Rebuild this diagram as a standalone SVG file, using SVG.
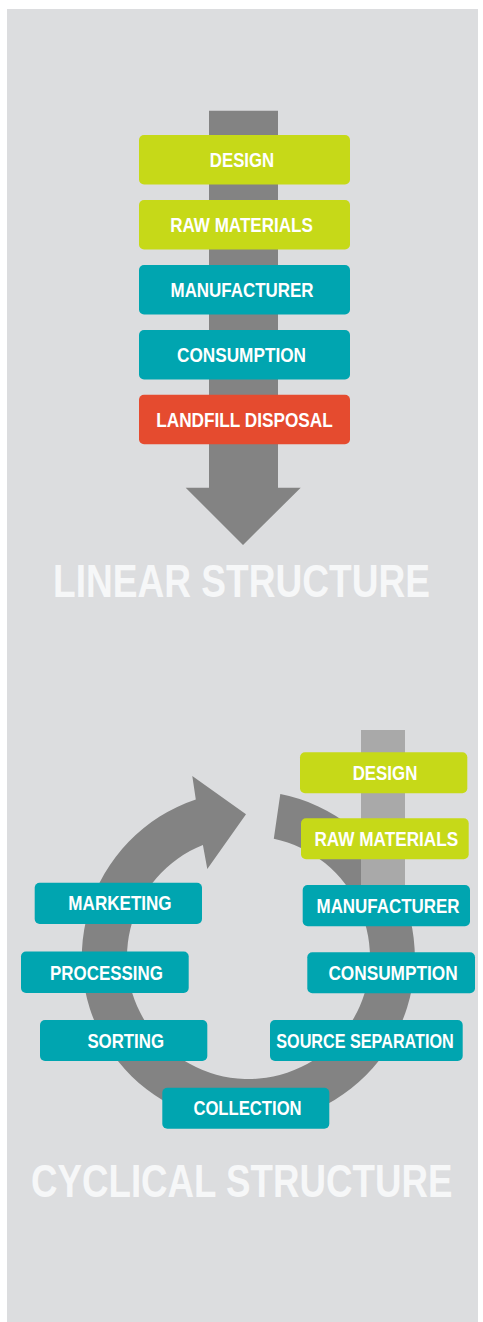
<svg xmlns="http://www.w3.org/2000/svg" width="483" height="1322" viewBox="0 0 483 1322">
  <style>
    .bg { fill: #dcdddf; }
    .arrow { fill: #838383; }
    .bar { fill: #a9a9a9; }
    .green { fill: #c6d918; }
    .teal { fill: #00a5b0; }
    .red { fill: #e54b2f; }
    .lbl { font-family: "Liberation Sans", Arial, sans-serif; font-weight: bold; font-size: 20px; fill: #ffffff; text-anchor: middle; }
    .title { font-family: "Liberation Sans", Arial, sans-serif; font-weight: bold; font-size: 46px; fill: #f6f7f8; text-anchor: middle; }
  </style>
  <rect class="bg" x="7" y="9" width="471" height="1313"/>

  <g id="connectors">
    <path id="linear-arrow" class="arrow" d="M209,110.7 H278 V487.7 H300.7 L243,545 L185.7,487.7 H209 Z"/>
    <path id="cycle-arrow" class="arrow" d="M280.3,794.1 A166.5,166.5 0 1 1 195.8,799.5 L192.3,776 L246,814.3 L207.3,869 L202.9,844.9 A121.5,121.5 0 1 0 273.8,838.7 Z"/>
    <rect id="cycle-feed" class="bar" x="361" y="730" width="44" height="156"/>
  </g>

  <g id="linear-design">
    <rect class="green" x="139" y="135" width="211" height="49.5" rx="5"/>
    <text class="lbl" transform="translate(242,167.3) scale(0.839,1)">DESIGN</text>
  </g>
  <g id="linear-raw-materials">
    <rect class="green" x="139" y="200" width="211" height="49.5" rx="5"/>
    <text class="lbl" transform="translate(241.5,232.3) scale(0.853,1)">RAW MATERIALS</text>
  </g>
  <g id="linear-manufacturer">
    <rect class="teal" x="139" y="265" width="211" height="49.5" rx="5"/>
    <text class="lbl" transform="translate(242,297.3) scale(0.847,1)">MANUFACTURER</text>
  </g>
  <g id="linear-consumption">
    <rect class="teal" x="139" y="330" width="211" height="49.5" rx="5"/>
    <text class="lbl" transform="translate(241.5,362.3) scale(0.86,1)">CONSUMPTION</text>
  </g>
  <g id="linear-landfill">
    <rect class="red" x="139" y="394.7" width="211" height="49.5" rx="5"/>
    <text class="lbl" transform="translate(244.5,427) scale(0.861,1)">LANDFILL DISPOSAL</text>
  </g>

  <text class="title" transform="translate(241.5,597.3) scale(0.806,1)">LINEAR STRUCTURE</text>

  <g id="cycle-design">
    <rect class="green" x="300" y="752.3" width="167.3" height="41" rx="5"/>
    <text class="lbl" transform="translate(385,780) scale(0.844,1)">DESIGN</text>
  </g>
  <g id="cycle-raw-materials">
    <rect class="green" x="301" y="818.3" width="167.7" height="41" rx="5"/>
    <text class="lbl" transform="translate(386.3,846) scale(0.859,1)">RAW MATERIALS</text>
  </g>
  <g id="cycle-manufacturer">
    <rect class="teal" x="302.7" y="885" width="167.3" height="41.3" rx="5"/>
    <text class="lbl" transform="translate(388,912.7) scale(0.847,1)">MANUFACTURER</text>
  </g>
  <g id="cycle-consumption">
    <rect class="teal" x="307.3" y="952.3" width="167.7" height="41" rx="5"/>
    <text class="lbl" transform="translate(393,980) scale(0.862,1)">CONSUMPTION</text>
  </g>
  <g id="cycle-source-separation">
    <rect class="teal" x="270" y="1020" width="192.7" height="41" rx="5"/>
    <text class="lbl" transform="translate(365,1047.7) scale(0.81,1)">SOURCE SEPARATION</text>
  </g>
  <g id="cycle-collection">
    <rect class="teal" x="162.3" y="1087.7" width="167" height="41" rx="5"/>
    <text class="lbl" transform="translate(247.5,1115.4) scale(0.833,1)">COLLECTION</text>
  </g>
  <g id="cycle-sorting">
    <rect class="teal" x="40" y="1020" width="167.3" height="41" rx="5"/>
    <text class="lbl" transform="translate(125.7,1047.7) scale(0.842,1)">SORTING</text>
  </g>
  <g id="cycle-processing">
    <rect class="teal" x="21" y="951.5" width="167.7" height="41.5" rx="5"/>
    <text class="lbl" transform="translate(106.5,979.5) scale(0.847,1)">PROCESSING</text>
  </g>
  <g id="cycle-marketing">
    <rect class="teal" x="34.7" y="882.7" width="167.3" height="41.3" rx="5"/>
    <text class="lbl" transform="translate(120,910.4) scale(0.853,1)">MARKETING</text>
  </g>

  <text class="title" transform="translate(241.7,1196.7) scale(0.798,1)">CYCLICAL STRUCTURE</text>
</svg>
